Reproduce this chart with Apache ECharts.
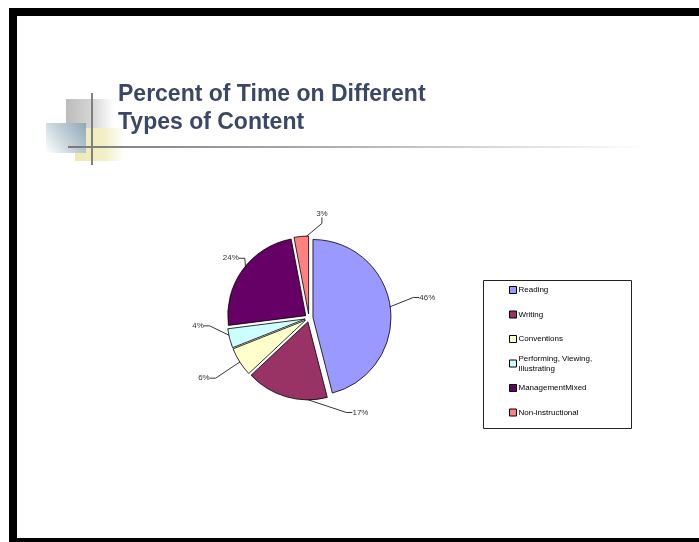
<!DOCTYPE html>
<html>
<head>
<meta charset="utf-8">
<script src="https://cdn.jsdelivr.net/npm/echarts@6/dist/echarts.min.js"></script>
<style>
  html, body { margin: 0; padding: 0; background: #fff; }
  #chart { width: 699px; height: 542px; }
</style>
</head>
<body>
<div id="chart"></div>
<script>
// Share of instructional time by content type
const categories = [
  'Reading',
  'Writing',
  'Conventions',
  'Performing, Viewing,\nIllustrating',
  'ManagementMixed',
  'Non-instructional'
];
const percents = [46, 17, 6, 4, 24, 3];
const sliceColors = ['#9999FF', '#993366', '#FFFFCC', '#CCFFFF', '#660066', '#FF8080'];
// nudges [dx, dy] applied to each value label, relative to its default outside spot
const labelShift = [[12, -9.5], [95, 10], [-14, 13], [-9, -14], [12, -8], [38, -17]];

const chart = echarts.init(document.getElementById('chart'), null, { renderer: 'canvas' });

const FONT = 'Liberation Sans, Arial, sans-serif';
const PIE_CENTER = [309, 318];
const PIE_RADIUS = 78;

// exploded slices
const sliceData = categories.map((name, i) => ({
  name,
  value: percents[i],
  selected: true,
  itemStyle: { color: sliceColors[i] }
}));

// same values, used only to carry the value labels and their leader lines
const labelData = categories.map((name, i) => ({ name, value: percents[i] }));

const legendData = categories.map((name) => ({
  name,
  textStyle: name.indexOf('\n') >= 0 ? { padding: [10, 0, 0, -3] } : { padding: [10, 0, 10, -3] }
}));

const option = {
  backgroundColor: '#ffffff',
  animation: false,
  title: {
    text: 'Percent of Time on Different\nTypes of Content',
    left: 113,
    top: 76,
    textStyle: {
      fontFamily: FONT,
      fontSize: 23,
      fontWeight: 'bold',
      color: '#3b4766',
      lineHeight: 28,
      textShadowColor: '#111',
      textShadowOffsetX: 1.5,
      textShadowOffsetY: 1.5,
      textShadowBlur: 0
    }
  },
  graphic: [
    // slide frame
    { type: 'rect', silent: true, shape: { x: 9, y: 8, width: 700, height: 8 }, style: { fill: '#000' } },
    { type: 'rect', silent: true, shape: { x: 9, y: 8, width: 8, height: 540 }, style: { fill: '#000' } },
    { type: 'rect', silent: true, shape: { x: 9, y: 538, width: 700, height: 8 }, style: { fill: '#000' } },
    // decorative squares beside the heading
    { type: 'rect', silent: true, shape: { x: 66, y: 99, width: 48, height: 36 },
      style: { fill: new echarts.graphic.LinearGradient(0, 0, 1, 0, [
        { offset: 0, color: '#bcbcbc' }, { offset: 0.55, color: '#d6d6d6' }, { offset: 1, color: '#ffffff' }]) } },
    { type: 'rect', silent: true, shape: { x: 75, y: 128, width: 50, height: 33 },
      style: { fill: new echarts.graphic.LinearGradient(0, 0, 1, 0, [
        { offset: 0, color: '#efe9b0' }, { offset: 0.6, color: '#f3efc8' }, { offset: 1, color: '#ffffff' }]) } },
    { type: 'rect', silent: true, shape: { x: 46, y: 123, width: 40, height: 30 },
      style: { fill: new echarts.graphic.LinearGradient(1, 0, 0, 1, [
        { offset: 0, color: '#8ea7b6' }, { offset: 0.6, color: '#cdd9e0' }, { offset: 1, color: '#ffffff' }]) } },
    // crosshair lines
    { type: 'rect', silent: true, shape: { x: 91, y: 93, width: 2, height: 72 }, style: { fill: '#808080' } },
    { type: 'rect', silent: true, shape: { x: 68, y: 146, width: 580, height: 2 },
      style: { fill: new echarts.graphic.LinearGradient(0, 0, 1, 0, [
        { offset: 0, color: '#7a7a7a' }, { offset: 0.5, color: '#b4b4b4' }, { offset: 1, color: '#ffffff' }]) } },
    // legend frame
    { type: 'rect', silent: true, shape: { x: 483.5, y: 280.5, width: 148, height: 148 },
      style: { fill: 'none', stroke: '#222', lineWidth: 1 } }
  ],
  legend: {
    orient: 'vertical',
    left: 504,
    top: 270,
    itemWidth: 7,
    itemHeight: 7,
    itemGap: -5.5,
    icon: 'rect',
    selectedMode: false,
    data: legendData,
    textStyle: {
      fontFamily: FONT,
      fontSize: 8,
      lineHeight: 10,
      color: '#000'
    },
    itemStyle: { borderColor: '#000', borderWidth: 1 }
  },
  series: [
    {
      type: 'pie',
      center: PIE_CENTER,
      radius: PIE_RADIUS,
      startAngle: 90,
      clockwise: true,
      selectedMode: 'multiple',
      selectedOffset: 4,
      data: sliceData,
      itemStyle: { borderColor: '#000', borderWidth: 0.8 },
      select: { itemStyle: { borderColor: '#000', borderWidth: 0.8 } },
      emphasis: { disabled: true },
      label: { show: false },
      labelLine: { show: false }
    },
    {
      type: 'pie',
      silent: true,
      center: PIE_CENTER,
      radius: PIE_RADIUS,
      startAngle: 90,
      clockwise: true,
      avoidLabelOverlap: false,
      data: labelData,
      itemStyle: { color: 'rgba(0,0,0,0)', borderWidth: 0 },
      emphasis: { disabled: true },
      label: {
        show: true,
        position: 'outside',
        formatter: '{c}%',
        fontFamily: FONT,
        fontSize: 8,
        color: '#333'
      },
      labelLine: {
        show: true,
        length: 10,
        length2: 6,
        lineStyle: { color: '#000', width: 0.8 }
      },
      labelLayout: function (params) {
        const s = labelShift[params.dataIndex];
        const r = params.labelRect;
        return {
          x: r.x + s[0],
          y: r.y + r.height / 2 + s[1],
          align: 'left',
          verticalAlign: 'middle'
        };
      }
    }
  ]
};

chart.setOption(option);
</script>
</body>
</html>
